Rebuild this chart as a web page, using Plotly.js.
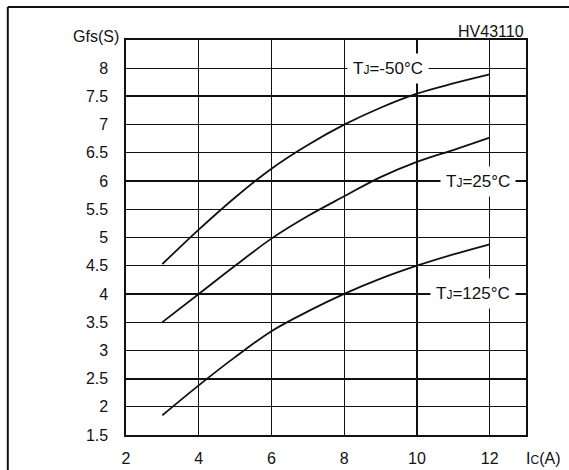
<!DOCTYPE html>
<html>
<head>
<meta charset="utf-8">
<script src="https://cdn.plot.ly/plotly-3.0.1.min.js"></script>
<style>html,body{margin:0;padding:0;background:#fff;}#chart{width:569px;height:470px;}</style>
</head>
<body>
<div id="chart"></div>
<script>
// Collector current Ic (A)
const icValues = [3, 4, 5, 6, 7, 8, 9, 10, 11, 12];
// Forward transconductance Gfs (S) per junction temperature
const gfsMinus50 = [4.53, 5.14, 5.71, 6.22, 6.64, 7.0, 7.3, 7.55, 7.73, 7.89];
const gfs25 = [3.5, 4.0, 4.5, 4.98, 5.38, 5.73, 6.07, 6.34, 6.55, 6.77];
const gfs125 = [1.85, 2.38, 2.88, 3.34, 3.69, 4.0, 4.27, 4.5, 4.7, 4.88];
const seriesNames = ["T<span style='font-size:12px'>J</span>=-50°C", "T<span style='font-size:12px'>J</span>=25°C", "T<span style='font-size:12px'>J</span>=125°C"];
const labelX = [9.2, 11.68, 11.55];
const labelY = [8, 6, 4];
const xTicks = [2, 4, 6, 8, 10, 12];
const yTicks = [1.5, 2, 2.5, 3, 3.5, 4, 4.5, 5, 5.5, 6, 6.5, 7, 7.5, 8];
const yBoldTicks = [2.5, 4, 6, 7.5];

const FONT = "Liberation Sans, Arial, sans-serif";
const lineStyle = {color: "#111", width: 1.8, shape: "spline", smoothing: 1};
const seriesData = [gfsMinus50, gfs25, gfs125];
const traces = seriesData.map((ys, i) => ({
  x: icValues, y: ys, type: "scatter", mode: "lines",
  line: lineStyle, name: seriesNames[i], showlegend: false, hoverinfo: "skip"
}));

const annotations = seriesNames.map((t, i) => ({
  x: labelX[i], y: labelY[i], xref: "x", yref: "y", text: t,
  showarrow: false, bgcolor: "#fff", borderpad: 5,
  font: {family: FONT, size: 17, color: "#111"}
}));
annotations.push(
  {xref: "paper", yref: "paper", x: -0.012, y: 1, xanchor: "right", yanchor: "middle", yshift: 4,
   text: "Gfs(S)", showarrow: false, font: {family: FONT, size: 16, color: "#111"}},
  {xref: "paper", yref: "paper", x: 1, y: 1, xanchor: "right", yanchor: "bottom", yshift: -2,
   text: "HV43110", showarrow: false, font: {family: FONT, size: 16, color: "#111"}},
  {xref: "paper", yref: "paper", x: 0.994, y: -0.0594, xanchor: "left", yanchor: "middle",
   text: "I<span style='font-size:12px'>C</span>(A)", showarrow: false, font: {family: FONT, size: 16, color: "#111"}}
);

const layout = {
  width: 569, height: 470,
  margin: {l: 125.5, r: 42.5, t: 40, b: 34.5, pad: 0},
  paper_bgcolor: "#fff", plot_bgcolor: "#fff",
  font: {family: FONT, size: 16, color: "#111"},
  xaxis: {
    range: [2, 13], tickvals: xTicks, ticktext: xTicks.map(String),
    showgrid: true, gridcolor: "#111", gridwidth: 1.2,
    showline: true, linecolor: "#111", linewidth: 1.6, mirror: true,
    ticks: "", ticklabelstandoff: 8, zeroline: false, fixedrange: true,
    tickfont: {family: FONT, size: 16, color: "#111"}
  },
  yaxis: {
    range: [1.5, 8.5], tickvals: yTicks, ticktext: yTicks.map(String),
    showgrid: true, gridcolor: "#111", gridwidth: 1.2,
    showline: true, linecolor: "#111", linewidth: 1.6, mirror: true,
    ticks: "", ticklabelstandoff: 13, zeroline: false, fixedrange: true,
    tickfont: {family: FONT, size: 16, color: "#111"}
  },
  yaxis2: {
    range: [1.5, 8.5], overlaying: "y", tickvals: yBoldTicks, showticklabels: false,
    showgrid: true, gridcolor: "#111", gridwidth: 2, ticks: "", zeroline: false, fixedrange: true
  },
  shapes: [
    {type: "line", xref: "paper", yref: "paper", x0: -0.2955, x1: 1.11, y0: 1.0834, y1: 1.0834,
     line: {color: "#111", width: 2}},
    {type: "line", xref: "paper", yref: "paper", x0: -0.2955, x1: -0.2955, y0: 1.0834, y1: -0.1,
     line: {color: "#111", width: 2}}
  ],
  annotations: annotations,
  showlegend: false
};
// invisible trace so that the overlay axis (thicker grid lines) is drawn
traces.push({x: [icValues[0]], y: [gfs25[0]], yaxis: "y2", type: "scatter", mode: "markers",
  marker: {opacity: 0}, hoverinfo: "skip", showlegend: false});

Plotly.newPlot("chart", traces, layout, {displayModeBar: false, staticPlot: true});
</script>
</body>
</html>
